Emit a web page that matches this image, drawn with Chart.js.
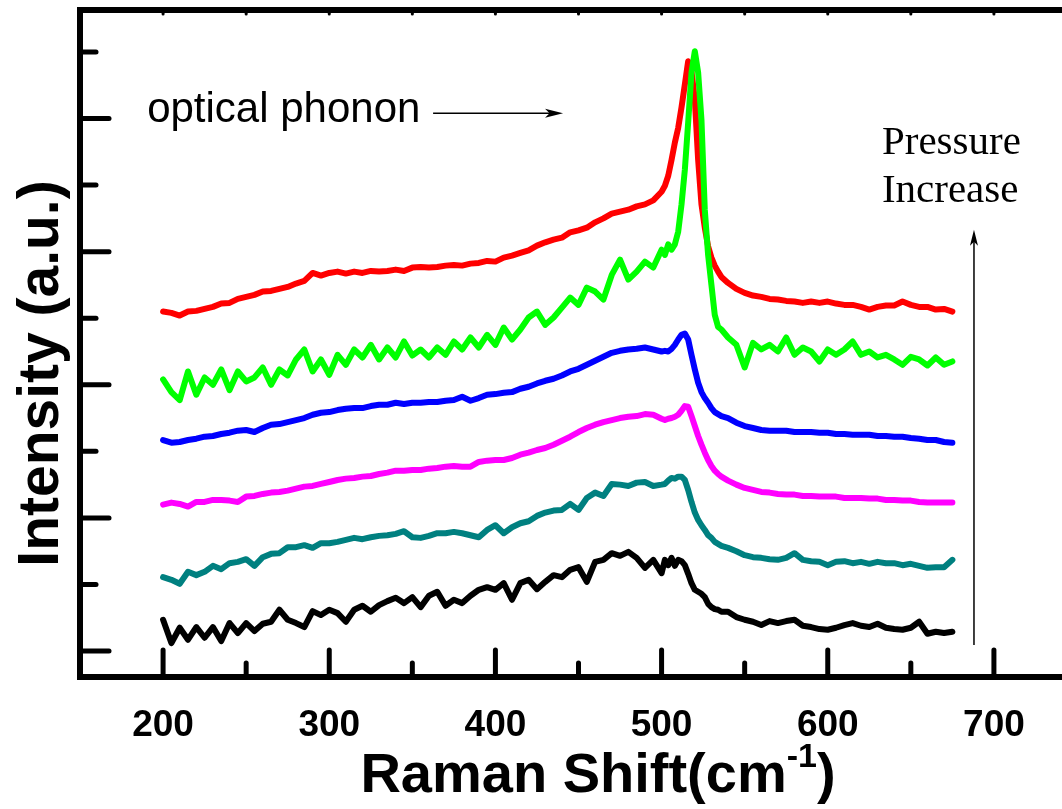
<!DOCTYPE html>
<html>
<head>
<meta charset="utf-8">
<script src="https://cdn.jsdelivr.net/npm/chart.js@4.4.1/dist/chart.umd.min.js"></script>
<style>
  html, body { margin: 0; padding: 0; background: #fff; overflow: hidden; }
  #wrap { width: 1100px; height: 809px; }
</style>
</head>
<body>
<div id="wrap"><canvas id="raman" width="1100" height="809"></canvas></div>
<script>
// Raman shift grid (cm^-1), finer around the optical phonon peak
const shifts = [
  200, 205, 210, 215, 220, 225, 230, 235, 240, 245,
  250, 255, 260, 265, 270, 275, 280, 285, 290, 295,
  300, 305, 310, 315, 320, 325, 330, 335, 340, 345,
  350, 355, 360, 365, 370, 375, 380, 385, 390, 395,
  400, 405, 410, 415, 420, 425, 430, 435, 440, 445,
  450, 455, 460, 465, 470, 475, 480, 485, 490, 495,
  500,
  502, 504, 506, 508, 510, 512, 514, 516, 518, 520, 522, 524, 526, 528, 530, 532, 534, 536,
  540, 545, 550, 555, 560, 565, 570, 575, 580, 585,
  590, 595, 600, 605, 610, 615, 620, 625, 630, 635,
  640, 645, 650, 655, 660, 665, 670, 675
];

// intensities (a.u., curves offset for clarity), lowest to highest pressure
const black = [
  0.47, 0.12, 0.35, 0.17, 0.36, 0.20, 0.36, 0.15, 0.42, 0.27,
  0.42, 0.30, 0.41, 0.44, 0.62, 0.47, 0.42, 0.36, 0.60, 0.54,
  0.62, 0.57, 0.44, 0.62, 0.68, 0.59, 0.69, 0.75, 0.80, 0.72,
  0.81, 0.66, 0.83, 0.89, 0.68, 0.77, 0.72, 0.83, 0.92, 0.96,
  0.92, 1.02, 0.77, 1.02, 1.07, 0.93, 1.04, 1.14, 1.11, 1.22,
  1.26, 1.04, 1.34, 1.37, 1.47, 1.43, 1.49, 1.40, 1.25, 1.37,
  1.17,
  1.37, 1.29, 1.40, 1.28, 1.37, 1.35, 1.29, 1.16, 1.02, 0.92, 0.89, 0.86, 0.81, 0.71, 0.66, 0.63, 0.62, 0.59,
  0.59, 0.51, 0.47, 0.44, 0.39, 0.45, 0.42, 0.45, 0.47, 0.38,
  0.36, 0.33, 0.32, 0.35, 0.39, 0.42, 0.38, 0.36, 0.41, 0.35,
  0.33, 0.32, 0.35, 0.44, 0.26, 0.29, 0.27, 0.29
];
const teal = [
  1.11, 1.07, 1.01, 1.19, 1.14, 1.19, 1.28, 1.23, 1.32, 1.34,
  1.38, 1.28, 1.41, 1.46, 1.47, 1.56, 1.56, 1.59, 1.55, 1.62,
  1.62, 1.64, 1.67, 1.70, 1.68, 1.71, 1.73, 1.74, 1.76, 1.80,
  1.71, 1.70, 1.73, 1.77, 1.77, 1.79, 1.77, 1.74, 1.71, 1.82,
  1.89, 1.77, 1.86, 1.92, 1.95, 2.03, 2.08, 2.11, 2.12, 2.21,
  2.12, 2.30, 2.38, 2.33, 2.51, 2.50, 2.48, 2.53, 2.54, 2.48,
  2.50,
  2.51, 2.56, 2.60, 2.59, 2.62, 2.62, 2.57, 2.42, 2.24, 2.08, 1.97, 1.89, 1.82, 1.74, 1.70, 1.64, 1.61, 1.58,
  1.55, 1.50, 1.44, 1.41, 1.40, 1.38, 1.37, 1.40, 1.47, 1.37,
  1.35, 1.34, 1.29, 1.34, 1.35, 1.32, 1.34, 1.31, 1.34, 1.32,
  1.32, 1.29, 1.31, 1.28, 1.25, 1.26, 1.26, 1.37
];
const magenta = [
  2.20, 2.23, 2.21, 2.17, 2.24, 2.24, 2.27, 2.27, 2.26, 2.24,
  2.32, 2.33, 2.36, 2.38, 2.39, 2.41, 2.44, 2.47, 2.48, 2.51,
  2.54, 2.57, 2.59, 2.60, 2.62, 2.63, 2.66, 2.68, 2.71, 2.71,
  2.72, 2.72, 2.74, 2.75, 2.77, 2.78, 2.77, 2.77, 2.84, 2.86,
  2.87, 2.87, 2.90, 2.95, 2.98, 3.02, 3.05, 3.10, 3.16, 3.22,
  3.29, 3.35, 3.40, 3.44, 3.47, 3.50, 3.52, 3.53, 3.56, 3.55,
  3.49,
  3.47, 3.49, 3.50, 3.52, 3.55, 3.61, 3.68, 3.67, 3.53, 3.38, 3.23, 3.10, 2.98, 2.87, 2.78, 2.71, 2.66, 2.62,
  2.56, 2.50, 2.45, 2.42, 2.39, 2.38, 2.36, 2.35, 2.35, 2.33,
  2.33, 2.32, 2.32, 2.32, 2.30, 2.30, 2.30, 2.29, 2.29, 2.27,
  2.27, 2.26, 2.26, 2.24, 2.23, 2.23, 2.23, 2.23
];
const blue = [
  3.17, 3.13, 3.14, 3.17, 3.19, 3.22, 3.23, 3.26, 3.28, 3.31,
  3.32, 3.29, 3.35, 3.40, 3.41, 3.44, 3.47, 3.50, 3.55, 3.58,
  3.59, 3.62, 3.64, 3.65, 3.65, 3.68, 3.70, 3.70, 3.73, 3.71,
  3.73, 3.73, 3.74, 3.74, 3.76, 3.77, 3.82, 3.76, 3.80, 3.85,
  3.86, 3.88, 3.89, 3.94, 3.97, 4.02, 4.06, 4.09, 4.14, 4.20,
  4.24, 4.30, 4.36, 4.42, 4.48, 4.51, 4.53, 4.54, 4.56, 4.53,
  4.50,
  4.51, 4.50, 4.54, 4.60, 4.68, 4.75, 4.77, 4.68, 4.45, 4.23, 4.03, 3.89, 3.80, 3.73, 3.65, 3.59, 3.56, 3.53,
  3.50, 3.43, 3.38, 3.35, 3.32, 3.31, 3.31, 3.31, 3.29, 3.29,
  3.29, 3.28, 3.28, 3.26, 3.26, 3.25, 3.25, 3.25, 3.23, 3.23,
  3.22, 3.22, 3.20, 3.19, 3.17, 3.17, 3.14, 3.13
];
const green = [
  4.08, 3.89, 3.77, 4.20, 3.85, 4.11, 4.00, 4.23, 3.92, 4.20,
  4.05, 4.11, 4.26, 4.00, 4.23, 4.14, 4.38, 4.53, 4.20, 4.38,
  4.15, 4.45, 4.30, 4.53, 4.41, 4.60, 4.38, 4.56, 4.41, 4.65,
  4.44, 4.53, 4.41, 4.56, 4.45, 4.65, 4.53, 4.71, 4.56, 4.75,
  4.60, 4.86, 4.68, 4.83, 5.01, 5.10, 4.90, 5.01, 5.16, 5.31,
  5.20, 5.46, 5.40, 5.28, 5.65, 5.88, 5.58, 5.70, 5.85, 5.76,
  6.03,
  5.95, 6.11, 6.03, 6.11, 6.30, 6.71, 7.23, 7.94, 8.69, 9.01, 8.69, 7.98, 6.63, 5.95, 5.50, 5.05, 4.87, 4.83,
  4.71, 4.60, 4.26, 4.63, 4.53, 4.60, 4.50, 4.71, 4.45, 4.56,
  4.50, 4.35, 4.53, 4.45, 4.53, 4.65, 4.45, 4.50, 4.41, 4.45,
  4.38, 4.30, 4.42, 4.38, 4.29, 4.41, 4.30, 4.35
];
const red = [
  5.10, 5.08, 5.04, 5.10, 5.11, 5.14, 5.17, 5.22, 5.23, 5.29,
  5.32, 5.35, 5.40, 5.41, 5.44, 5.47, 5.52, 5.56, 5.68, 5.64,
  5.68, 5.70, 5.67, 5.70, 5.68, 5.71, 5.70, 5.71, 5.73, 5.71,
  5.76, 5.77, 5.76, 5.77, 5.79, 5.80, 5.79, 5.82, 5.83, 5.86,
  5.85, 5.91, 5.94, 5.98, 6.02, 6.09, 6.14, 6.18, 6.21, 6.29,
  6.32, 6.36, 6.44, 6.50, 6.57, 6.60, 6.63, 6.68, 6.71, 6.77,
  6.90,
  6.99, 7.14, 7.38, 7.64, 7.86, 8.17, 8.51, 8.86, 8.71, 8.29, 7.38, 6.71, 6.36, 6.08, 5.91, 5.79, 5.70, 5.62,
  5.53, 5.44, 5.38, 5.34, 5.32, 5.29, 5.28, 5.26, 5.25, 5.23,
  5.25, 5.23, 5.25, 5.22, 5.20, 5.20, 5.17, 5.13, 5.17, 5.19,
  5.19, 5.25, 5.20, 5.17, 5.17, 5.13, 5.14, 5.10
];

const xTickLabels = [200, 300, 400, 500, 600, 700];
const xMinorTicks = [250, 350, 450, 550, 650];
const yMajorTicks = [0, 2, 4, 6, 8];
const yMinorTicks = [1, 3, 5, 7, 9];

const SANS = "'Liberation Sans', Arial, sans-serif";
const SERIF = "'Liberation Serif', 'Times New Roman', serif";

function series(values) {
  return shifts.map((s, i) => ({ x: s, y: values[i] }));
}

function line(ctx, x1, y1, x2, y2) {
  ctx.beginPath();
  ctx.moveTo(x1, y1);
  ctx.lineTo(x2, y2);
  ctx.stroke();
}

function arrowHead(ctx, x, y, dir, len, half) {
  // dir: 'right' or 'up'
  ctx.beginPath();
  if (dir === 'right') {
    ctx.moveTo(x, y);
    ctx.lineTo(x - len, y - half);
    ctx.lineTo(x - len * 0.75, y);
    ctx.lineTo(x - len, y + half);
  } else {
    ctx.moveTo(x, y);
    ctx.lineTo(x - half, y + len);
    ctx.lineTo(x, y + len * 0.75);
    ctx.lineTo(x + half, y + len);
  }
  ctx.closePath();
  ctx.fill();
}

// frame with inward ticks, axis titles and annotations
const framePlugin = {
  id: 'frame',
  afterDatasetsDraw(chart) {
    const { ctx, chartArea: a, scales: { x, y } } = chart;
    ctx.save();
    ctx.strokeStyle = '#000';
    ctx.fillStyle = '#000';

    ctx.lineCap = 'round';
    ctx.lineWidth = 5;
    yMajorTicks.forEach(v => { const py = y.getPixelForValue(v); line(ctx, a.left, py, a.left + 29, py); });
    yMinorTicks.forEach(v => { const py = y.getPixelForValue(v); line(ctx, a.left, py, a.left + 16, py); });
    xTickLabels.forEach(v => { const px = x.getPixelForValue(v); line(ctx, px, a.bottom, px, a.bottom - 27); });
    xMinorTicks.forEach(v => { const px = x.getPixelForValue(v); line(ctx, px, a.bottom, px, a.bottom - 14); });
    ctx.lineWidth = 3;
    xTickLabels.concat(xMinorTicks).forEach(v => {
      const px = x.getPixelForValue(v);
      line(ctx, px, a.top, px, a.top + 4);
    });

    ctx.lineCap = 'square';
    ctx.lineWidth = 6;
    ctx.beginPath();
    ctx.moveTo(a.right, a.top);
    ctx.lineTo(a.left, a.top);
    ctx.lineTo(a.left, a.bottom);
    ctx.lineTo(a.right, a.bottom);
    ctx.stroke();

    // x axis title with superscript
    const big = 'bold 56px ' + SANS;
    const sup = 'bold 34px ' + SANS;
    ctx.textBaseline = 'alphabetic';
    ctx.textAlign = 'left';
    ctx.font = big;
    const w1 = ctx.measureText('Raman Shift(cm').width;
    const w3 = ctx.measureText(')').width;
    ctx.font = sup;
    const w2 = ctx.measureText('-1').width;
    const cx = (a.left + 1030) / 2 + 43;
    let tx = cx - (w1 + w2 + w3) / 2;
    const base = 792;
    ctx.font = big;
    ctx.fillText('Raman Shift(cm', tx, base);
    tx += w1;
    ctx.font = sup;
    ctx.fillText('-1', tx, base - 25);
    tx += w2;
    ctx.font = big;
    ctx.fillText(')', tx, base);

    // y axis title
    ctx.save();
    ctx.translate(58, (a.top + a.bottom) / 2 + 30);
    ctx.rotate(-Math.PI / 2);
    ctx.textAlign = 'center';
    ctx.font = 'bold 57px ' + SANS;
    ctx.fillText('Intensity (a.u.)', 0, 0);
    ctx.restore();

    // optical phonon label and arrow
    ctx.font = '42px ' + SANS;
    ctx.textAlign = 'left';
    ctx.fillText('optical phonon', x.getPixelForValue(190.4), y.getPixelForValue(7.94));
    ctx.lineWidth = 1.5;
    ctx.lineCap = 'butt';
    const ay = y.getPixelForValue(8.08);
    const ax1 = x.getPixelForValue(362.5);
    const ax2 = x.getPixelForValue(440.7);
    line(ctx, ax1, ay, ax2 - 10, ay);
    arrowHead(ctx, ax2, ay, 'right', 18, 4.5);

    // pressure label and arrow
    ctx.font = '41px ' + SERIF;
    ctx.fillText('Pressure', x.getPixelForValue(632.6), y.getPixelForValue(7.46));
    ctx.fillText('Increase', x.getPixelForValue(632.6), y.getPixelForValue(6.74));
    const vx = x.getPixelForValue(688);
    const vy1 = y.getPixelForValue(0.09);
    const vy2 = y.getPixelForValue(6.33);
    line(ctx, vx, vy1, vx, vy2 + 10);
    arrowHead(ctx, vx, vy2, 'up', 16, 4);

    ctx.restore();
  }
};

const curve = (values, color) => ({
  data: series(values),
  borderColor: color,
  borderWidth: 6,
  pointRadius: 0,
  tension: 0,
  fill: false,
  borderJoinStyle: 'round',
  borderCapStyle: 'round'
});

new Chart(document.getElementById('raman'), {
  type: 'line',
  data: {
    datasets: [
      curve(green, '#00ff00'),
      curve(red, '#ff0000'),
      curve(blue, '#0000ff'),
      curve(magenta, '#ff00ff'),
      curve(teal, '#008080'),
      curve(black, '#000000')
    ]
  },
  options: {
    responsive: false,
    animation: false,
    devicePixelRatio: 1,
    layout: { padding: { top: 10, right: 23, left: 0, bottom: 0 } },
    plugins: { legend: { display: false }, tooltip: { enabled: false } },
    scales: {
      x: {
        type: 'linear',
        min: 150,
        max: 750,
        grid: { display: false, drawTicks: false },
        border: { display: false },
        afterBuildTicks: s => { s.ticks = xTickLabels.map(v => ({ value: v })); },
        afterFit: s => { s.height = 132; },
        ticks: {
          color: '#000',
          padding: 27,
          maxRotation: 0,
          font: { family: SANS, size: 37, weight: 'bold' }
        }
      },
      y: {
        type: 'linear',
        min: -0.39,
        max: 9.63,
        grid: { display: false, drawTicks: false },
        border: { display: false },
        ticks: { display: false },
        afterFit: s => { s.width = 80; }
      }
    }
  },
  plugins: [framePlugin]
});
</script>
</body>
</html>
